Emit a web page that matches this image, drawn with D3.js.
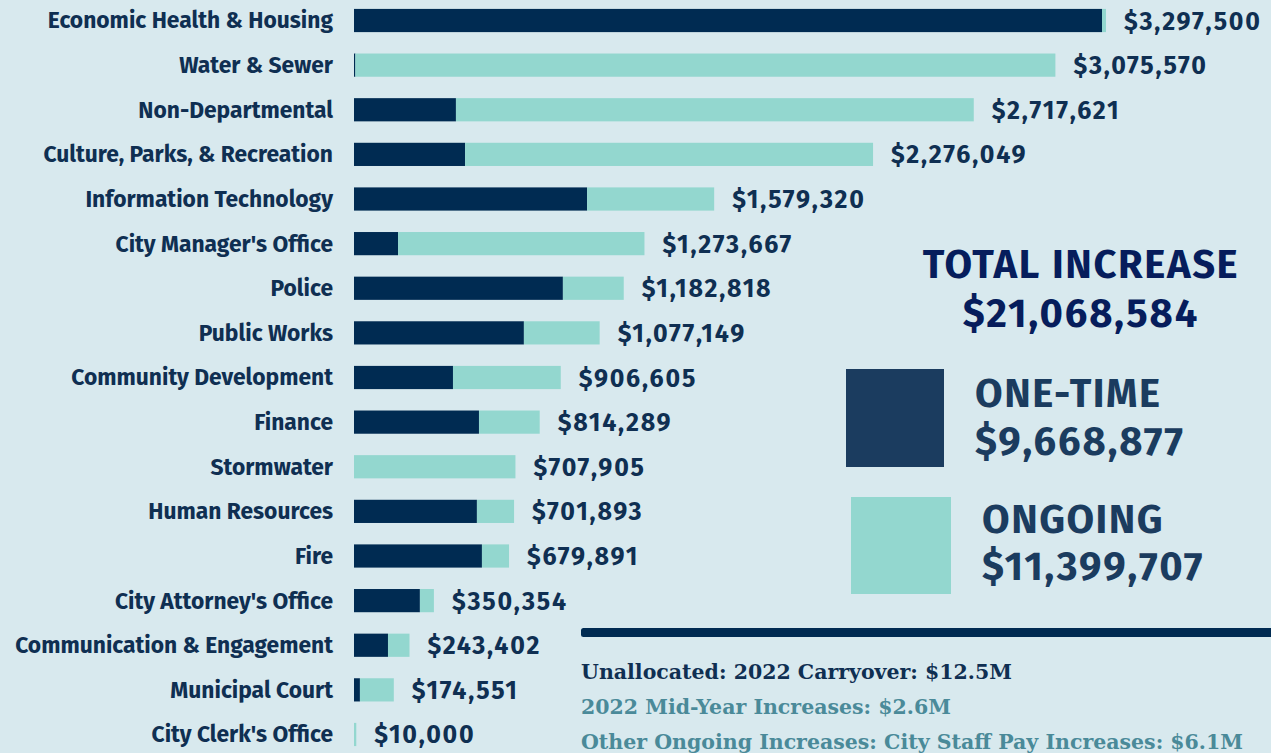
<!DOCTYPE html>
<html>
<head>
<meta charset="utf-8">
<script src="https://cdn.jsdelivr.net/npm/d3@7"></script>
<style>
  body { margin: 0; background: #d8e9ee; overflow: hidden; }
  svg { display: block; }
</style>
</head>
<body>
<div id="chart"></div>
<script>
var svgWidth = 1271;
var svgHeight = 753;

// departments, top to bottom
var departments = [
  "Economic Health & Housing", "Water & Sewer", "Non-Departmental",
  "Culture, Parks, & Recreation", "Information Technology", "City Manager's Office",
  "Police", "Public Works", "Community Development", "Finance", "Stormwater",
  "Human Resources", "Fire", "City Attorney's Office", "Communication & Engagement",
  "Municipal Court", "City Clerk's Office"
];
// stated totals
var totals = [3297500, 3075570, 2717621, 2276049, 1579320, 1273667, 1182818, 1077149,
  906605, 814289, 707905, 701893, 679891, 350354, 243402, 174551, 10000];
// one-time part
var oneTime = [3280000, 6000, 447000, 487000, 1022000, 193000, 916000, 745000,
  434000, 548000, 0, 539000, 561000, 289000, 149000, 26000, 0];
// ongoing = rest of total
var ongoing = totals.map((t, i) => t - oneTime[i]);

var notes = [
  "Unallocated: 2022 Carryover: $12.5M",
  "2022 Mid-Year Increases: $2.6M",
  "Other Ongoing Increases: City Staff Pay Increases: $6.1M"
];

var darkBlue = "#002b52";
var teal = "#93d7cf";
var textColor = "#0f2f52";
var sans = "'Fira Sans', 'Noto Sans', sans-serif";

var svg = d3.select("#chart")
  .append("svg")
  .attr("width", svgWidth)
  .attr("height", svgHeight);

var barLeft = 354;

var xScale = d3.scaleLinear()
  .domain([0, 3297500])
  .range([barLeft, 1106]);

var yScale = d3.scaleBand()
  .domain(departments)
  .range([-1.8, 756.8])
  .paddingInner(0.48)
  .paddingOuter(0.24);

var rows = departments.map((d, i) => ({
  name: d, oneTime: oneTime[i], ongoing: ongoing[i], total: totals[i]
}));

var stack = d3.stack().keys(["oneTime", "ongoing"]);
var series = stack(rows);
var colors = { oneTime: darkBlue, ongoing: teal };

svg.append("g").selectAll("g")
  .data(series)
  .enter()
  .append("g")
  .attr("fill", d => colors[d.key])
  .selectAll("rect")
  .data(d => d)
  .enter()
  .append("rect")
  .attr("x", d => xScale(d[0]))
  .attr("y", d => yScale(d.data.name))
  .attr("width", d => xScale(d[1]) - xScale(d[0]))
  .attr("height", yScale.bandwidth());

// department labels
svg.append("g").selectAll("text")
  .data(rows)
  .enter()
  .append("text")
  .attr("x", 333)
  .attr("y", d => yScale(d.name) + yScale.bandwidth() / 2)
  .attr("dy", "0.35em")
  .attr("text-anchor", "end")
  .attr("fill", textColor)
  .style("font-family", sans)
  .style("font-weight", "700")
  .style("font-size", "22.8px")
  .text(d => d.name);

// value labels
var fmt = d3.format("$,");
svg.append("g").selectAll("text")
  .data(rows)
  .enter()
  .append("text")
  .attr("x", d => xScale(d.total) + 18)
  .attr("y", d => yScale(d.name) + yScale.bandwidth() / 2)
  .attr("dy", "0.36em")
  .attr("fill", textColor)
  .style("font-family", sans)
  .style("font-weight", "700")
  .style("font-size", "25px")
  .style("letter-spacing", "1.8px")
  .text(d => fmt(d.total));

// totals block
svg.append("text")
  .attr("x", 1081).attr("y", 278)
  .attr("text-anchor", "middle")
  .attr("fill", "#061d5c")
  .style("font-family", sans)
  .style("font-weight", "700")
  .style("font-size", "40px")
  .style("letter-spacing", "1.6px")
  .text("TOTAL INCREASE");

svg.append("text")
  .attr("x", 1081).attr("y", 327)
  .attr("text-anchor", "middle")
  .attr("fill", "#061d5c")
  .style("font-family", sans)
  .style("font-weight", "700")
  .style("font-size", "40px")
  .style("letter-spacing", "1.9px")
  .text("$21,068,584");

var legend = [
  { label: "ONE-TIME", value: "$9,668,877", color: "#1b3c5f", x: 846, y: 369, w: 98, h: 98, tx: 975, b1: 407, b2: 455 },
  { label: "ONGOING", value: "$11,399,707", color: teal, x: 851, y: 497, w: 100, h: 97, tx: 982, b1: 533, b2: 580 }
];

var lg = svg.append("g").selectAll("g")
  .data(legend)
  .enter()
  .append("g");

lg.append("rect")
  .attr("x", d => d.x).attr("y", d => d.y)
  .attr("width", d => d.w).attr("height", d => d.h)
  .attr("fill", d => d.color);

lg.append("text")
  .attr("x", d => d.tx).attr("y", d => d.b1)
  .attr("fill", "#1b3c5f")
  .style("font-family", sans)
  .style("font-weight", "700")
  .style("font-size", "40px")
  .style("letter-spacing", "1.5px")
  .text(d => d.label);

lg.append("text")
  .attr("x", d => d.tx).attr("y", d => d.b2)
  .attr("fill", "#1b3c5f")
  .style("font-family", sans)
  .style("font-weight", "700")
  .style("font-size", "40px")
  .style("letter-spacing", "1.9px")
  .text(d => d.value);

// divider
svg.append("rect")
  .attr("x", 581).attr("y", 628)
  .attr("width", 720).attr("height", 9)
  .attr("rx", 2.5)
  .attr("fill", darkBlue);

// notes
svg.append("g").selectAll("text")
  .data(notes)
  .enter()
  .append("text")
  .attr("x", 581)
  .attr("y", (d, i) => 679 + i * 35)
  .attr("fill", (d, i) => i === 0 ? textColor : "#4a8a99")
  .style("font-family", "Georgia, 'DejaVu Serif', serif")
  .style("font-weight", "700")
  .style("font-size", "20.5px")
  .text(d => d);
</script>
</body>
</html>
